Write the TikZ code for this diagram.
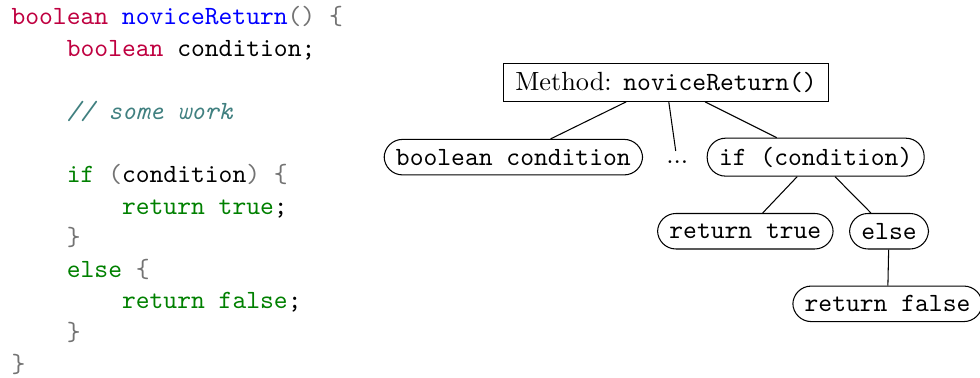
\documentclass[tikz,border=0pt]{standalone}
\usepackage{xcolor}
\usepackage{tikz}
\usetikzlibrary{positioning,calc}

\definecolor{kwpurple}{rgb}{0.75,0,0.25}
\definecolor{cmtteal}{rgb}{0.25,0.5,0.5}
\definecolor{ctlgreen}{rgb}{0,0.5,0}
\definecolor{puncgray}{rgb}{0.45,0.45,0.45}

\begin{document}
\begin{tikzpicture}[
    font=\normalsize,
    codeline/.style={anchor=base west, inner sep=0pt, font=\ttfamily},
    methodbox/.style={draw, inner xsep=4.5pt},
    stmtbox/.style={draw, rounded corners=7pt, inner xsep=4.5pt, minimum height=13.5pt, font=\ttfamily}
]
    \useasboundingbox (0,0) rectangle (13.096,-5.038);

    % Source code
    \node[codeline] (l1) at (0.147,-0.334) {\textcolor{kwpurple}{boolean} \textcolor{blue}{noviceReturn}\textcolor{puncgray}{() \{}};
    \node[codeline] (l2) at (0.886,-0.756) {\textcolor{kwpurple}{boolean} condition;};
    \node[codeline] (l4) at (0.886,-1.600) {\textcolor{cmtteal}{\itshape // some work}};
    \node[codeline] (l6) at (0.886,-2.443) {\textcolor{ctlgreen}{if} \textcolor{puncgray}{(}condition\textcolor{puncgray}{) \{}};
    \node[codeline] (l7) at (1.624,-2.865) {\textcolor{ctlgreen}{return true};};
    \node[codeline] (l8) at (0.886,-3.286) {\textcolor{puncgray}{\}}};
    \node[codeline] (l9) at (0.886,-3.708) {\textcolor{ctlgreen}{else} \textcolor{puncgray}{\{}};
    \node[codeline] (l10) at (1.624,-4.129) {\textcolor{ctlgreen}{return false};};
    \node[codeline] (l11) at (0.886,-4.551) {\textcolor{puncgray}{\}}};
    \node[codeline] (l12) at (0.147,-4.973) {\textcolor{puncgray}{\}}};

    % Tree nodes
    \node[methodbox] (root) at (8.90,-1.10) {Method: \texttt{noviceReturn()}};
    \node[stmtbox] (cond) at (6.86,-2.10) {boolean condition};
    \node (dots) at (9.05,-2.16) {...};
    \node[stmtbox] (ifc) at (10.90,-2.10) {if (condition)};
    \node[stmtbox] (rtrue) at (9.96,-3.09) {return true};
    \node[stmtbox] (elsec) at (11.88,-3.09) {else};
    \node[stmtbox] (rfalse) at (11.86,-4.06) {return false};

    % Edges
    \draw (root) -- (cond);
    \draw (root) -- (dots);
    \draw (root) -- (ifc);
    \draw (ifc) -- (rtrue);
    \draw (ifc) -- (elsec);
    \draw (elsec) -- (rfalse);
\end{tikzpicture}
\end{document}
